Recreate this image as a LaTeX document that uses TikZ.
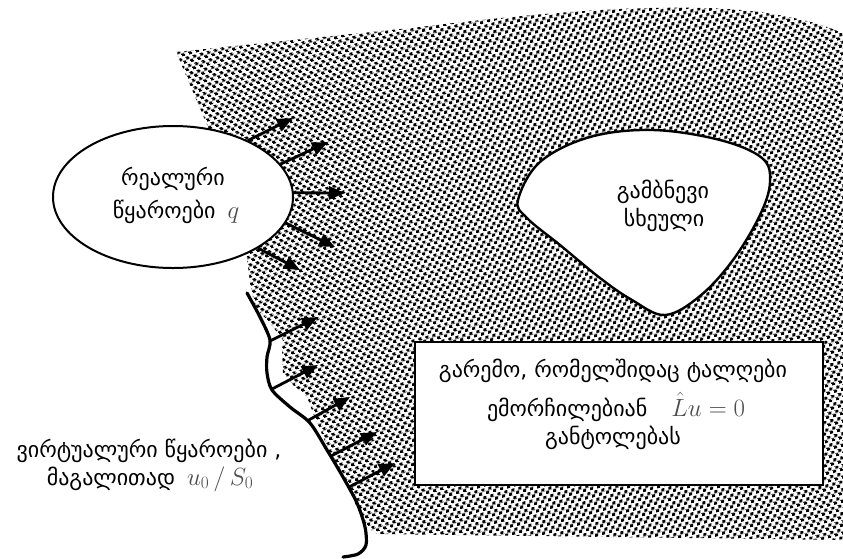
\documentclass[tikz,border=0pt]{standalone}
\usepackage[no-math]{fontspec}
\newfontfamily\geo{DejaVu Sans}
\usetikzlibrary{arrows.meta,patterns.meta,shapes.geometric}

% stipple used to shade the propagation medium
\tikzdeclarepattern{
  name=stipple,
  type=uncolored,
  bounding box={(0pt,0pt) and (7pt,7pt)},
  tile size={(7pt,7pt)},
  tile transformation={rotate=15},
  code={
    \fill (0.2pt,0.2pt) rectangle (3.3pt,3.3pt);
    \fill (3.7pt,3.7pt) rectangle (6.8pt,6.8pt);
  }
}

\tikzset{
  geotext/.style={font=\geo\fontsize{22}{26}\selectfont, anchor=base, inner sep=0pt},
  ray/.style={line width=2.8pt, -{Triangle[length=16pt,width=13pt]}},
  outline/.style={line width=2pt, draw=black, fill=white},
  wall/.style={line width=3.2pt, line cap=round},
}
\newcommand{\formula}[1]{{\color{black!70}\fontsize{23}{26}\selectfont$#1$}}

\begin{document}
\begin{tikzpicture}[x=1pt,y=-1pt]
\useasboundingbox (0,0) rectangle (843,558);

% shaded medium
\fill[pattern=stipple, pattern color=black]
  (176,52) -- (420,27) .. controls (560,10) and (680,2) .. (760,12)
  .. controls (800,18) and (830,26) .. (843,34)
  -- (843,540) -- (377,534) -- (367,527) -- (355,503) -- (343,473)
  -- (330,453) -- (313,413) -- (307,397) -- (295,387) -- (283,373)
  -- (282,350) -- (283,340) -- (270,323) -- (255,307) -- (250,283)
  -- (247,258) -- (240,200) -- (205,120) -- cycle;

% medium description box
\node[outline, line width=2.4pt, minimum width=408pt, minimum height=143pt, inner sep=0pt]
  (medium) at (619,413.5) {};
\node[geotext] (medA) at (613,377) {გარემო, რომელშიდაც ტალღები};
\node[geotext] (medB) at (616,416) {ემორჩილებიან\hspace{24pt}\formula{\hat{L}u=0}};
\node[geotext] (medC) at (613,444) {განტოლებას};

% scattering body
\draw[outline, line width=2.4pt] plot[smooth cycle, tension=0.6] coordinates {
  (518,200) (540,162) (590,137) (653,130) (720,140) (762,158) (770,182)
  (760,215) (733,260) (700,296) (665,315) (632,300) (600,278) (560,245) (527,218)};
\node[geotext] (bodyA) at (663,198) {გამბნევი};
\node[geotext] (bodyB) at (664,226) {სხეული};

% real sources
\node[outline, ellipse, minimum width=240pt, minimum height=142pt, inner sep=0pt]
  (real) at (173,197) {};
\node[geotext] (realA) at (173,185) {რეალური};
\node[geotext] (realB) at (176,218) {წყაროები\hspace{12pt}\formula{q}};

\coordinate (r1) at (293,118);
\coordinate (r2) at (328,142);
\coordinate (r3) at (345,193);
\coordinate (r4) at (335,247);
\coordinate (r5) at (300,270);
\draw[ray] (real.37) -- (r1);
\draw[ray] (real.17) -- (r2);
\draw[ray] (real.2) -- (r3);
\draw[ray] (real.-13) -- (r4);
\draw[ray] (real.-31) -- (r5);

% virtual source surface
\draw[wall] plot[smooth] coordinates {
  (247,293) (260,317) (270,340) (267,357) (267,373) (272,390) (290,407)
  (310,423) (327,450) (343,477) (357,503) (365,527) (366,545) (358,554) (343,557)};

\coordinate (v1s) at (270,341);
\coordinate (v2s) at (272,389);
\coordinate (v3s) at (307,421);
\coordinate (v4s) at (331,456);
\coordinate (v5s) at (349,487);
\coordinate (v1) at (318,317);
\coordinate (v2) at (318,365);
\coordinate (v3) at (350,397);
\coordinate (v4) at (377,432);
\coordinate (v5) at (395,463);
\draw[ray] (v1s) -- (v1);
\draw[ray] (v2s) -- (v2);
\draw[ray] (v3s) -- (v3);
\draw[ray] (v4s) -- (v4);
\draw[ray] (v5s) -- (v5);

\node[geotext] (virtA) at (149,457) {ვირტუალური წყაროები ,};
\node[geotext] (virtB) at (150,485) {მაგალითად\hspace{12pt}\formula{u_0\,/\,S_0}};
\end{tikzpicture}
\end{document}
